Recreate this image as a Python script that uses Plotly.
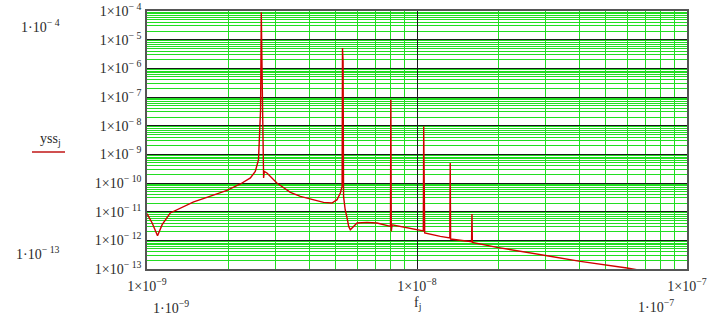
import plotly.graph_objects as go

# ---- data (frequency f_j, response yss_j) ----
f_vals = [
    1.000e-9, 1.045e-9, 1.094e-9, 1.138e-9, 1.219e-9, 1.327e-9, 1.489e-9, 1.667e-9,
    1.977e-9, 2.218e-9, 2.415e-9, 2.518e-9, 2.588e-9, 2.634e-9, 2.650e-9, 2.680e-9,
    2.689e-9, 2.703e-9, 2.719e-9, 2.782e-9, 3.027e-9, 3.396e-9, 3.698e-9, 3.917e-9,
    4.508e-9, 4.842e-9, 5.058e-9, 5.200e-9, 5.279e-9, 5.297e-9, 5.324e-9, 5.346e-9,
    5.420e-9, 5.508e-9, 5.585e-9, 5.662e-9, 5.821e-9, 5.998e-9, 6.531e-9, 7.112e-9,
    7.976e-9, 8.002e-9, 8.030e-9, 8.085e-9, 1.0552e-8, 1.0589e-8, 1.0643e-8, 1.0680e-8,
    1.2198e-8, 1.3230e-8, 1.3275e-8, 1.3320e-8, 1.5925e-8, 1.598e-8, 1.6036e-8,
    1.978e-8, 3.03e-8, 4.025e-8, 5.995e-8, 7.963e-8,
]
yss_vals = [
    8.5e-12, 4.03e-12, 1.45e-12, 3.52e-12, 9.0e-12, 1.34e-11, 2.18e-11, 3.15e-11,
    5.52e-11, 9.24e-11, 1.50e-10, 2.54e-10, 6.5e-10, 3.6e-8, 8.97e-5, 3.6e-8,
    1.15e-9, 1.5e-10, 2.54e-10, 2.24e-10, 1.0e-10, 4.71e-11, 3.41e-11, 3.0e-11,
    2.11e-11, 2.01e-11, 2.62e-11, 4.49e-11, 7.62e-11, 5.14e-6, 1.75e-6, 3.41e-11,
    1.17e-11, 6.03e-12, 3.06e-12, 2.35e-12, 3.06e-12, 4.03e-12, 4.23e-12, 4.03e-12,
    3.06e-12, 8.07e-8, 2.05e-12, 3.5e-12, 2.14e-12, 9.44e-9, 4.49e-11, 1.80e-12,
    1.37e-12, 1.21e-12, 4.99e-10, 1.11e-12, 8.97e-13, 8.30e-12, 8.47e-13,
    5.67e-13, 2.91e-13, 1.84e-13, 1.08e-13, 6.86e-14,
]

y_exponents = [-13, -12, -11, -10, -9, -8, -7, -6, -5, -4]
x_exponents = [-9, -8, -7]

SERIF = "Liberation Serif"
TXT = "#2a2a2a"
FS = 14

y_tickvals = [10.0 ** e for e in y_exponents]
y_ticktext = [f"1\u00d710<sup>\u2212 {abs(e)}</sup>" for e in y_exponents]
x_tickvals = [10.0 ** e for e in x_exponents]
x_ticktext = [f"1\u00d710<sup>\u2212{abs(e)}</sup>" for e in x_exponents]

y_minor = [k * 10.0 ** e for e in range(-13, -4) for k in range(2, 10)] + [1e-4]
x_minor = [k * 10.0 ** e for e in range(-9, -7) for k in range(2, 10)]

fig = go.Figure()
fig.add_trace(go.Scatter(
    x=f_vals, y=yss_vals, mode="lines",
    line=dict(color="#d00000", width=1.4),
    showlegend=False, hoverinfo="skip",
))

W, H = 711, 322
L, R, T, B = 147, 24, 11, 53
pw, ph = W - L - R, H - T - B


def px(xp):
    return (xp - L) / pw


def py(yp):
    return (H - B - yp) / ph


fig.update_layout(
    width=W, height=H,
    margin=dict(l=L, r=R, t=T, b=B, pad=0),
    paper_bgcolor="white", plot_bgcolor="white",
    font=dict(family=SERIF, size=FS, color=TXT),
    xaxis=dict(
        type="log", range=[-9, -7], automargin=False,
        tickmode="array", tickvals=x_tickvals, ticktext=x_ticktext,
        showgrid=True, gridcolor="#1a1a1a", gridwidth=1,
        minor=dict(tickmode="array", tickvals=x_minor, showgrid=True,
                   gridcolor="#22dd22", gridwidth=1, ticks=""),
        ticks="", ticklabelstandoff=3,
        showline=True, mirror=True, linecolor="#555555", linewidth=1.5,
        zeroline=False, tickfont=dict(family=SERIF, size=FS, color=TXT),
    ),
    yaxis=dict(
        type="log", range=[-13, -4], automargin=False,
        tickmode="array", tickvals=y_tickvals, ticktext=y_ticktext,
        showgrid=True, gridcolor="#1a1a1a", gridwidth=1,
        minor=dict(tickmode="array", tickvals=y_minor, showgrid=True,
                   gridcolor="#22dd22", gridwidth=1, ticks=""),
        ticks="", ticklabelstandoff=1,
        showline=True, mirror=True, linecolor="#555555", linewidth=1.5,
        zeroline=False, tickfont=dict(family=SERIF, size=FS, color=TXT),
    ),
)

ann = dict(xref="paper", yref="paper", showarrow=False,
           xanchor="center", yanchor="middle",
           font=dict(family=SERIF, size=FS, color=TXT))
fig.add_annotation(x=px(40), y=py(26), text="1\u00b710<sup>\u2212 4</sup>", **ann)
fig.add_annotation(x=px(38), y=py(253), text="1\u00b710<sup>\u2212 13</sup>", **ann)
fig.add_annotation(x=px(50), y=py(139), text="yss<sub>j</sub>", **ann)
fig.add_annotation(x=px(171), y=py(307), text="1\u00b710<sup>\u22129</sup>", **ann)
fig.add_annotation(x=px(656), y=py(306), text="1\u00b710<sup>\u22127</sup>", **ann)
fig.add_annotation(x=px(417), y=py(303), text="f<sub>j</sub>", **ann)

fig.add_shape(type="line", xref="paper", yref="paper",
              x0=px(32), x1=px(65), y0=py(152), y1=py(152),
              line=dict(color="#d05050", width=2))

fig.write_html("out.html")
